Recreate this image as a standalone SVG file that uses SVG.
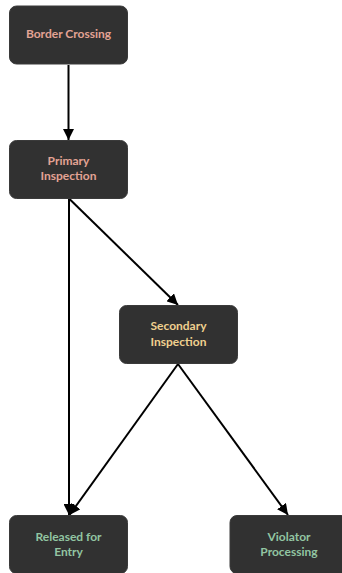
<svg xmlns="http://www.w3.org/2000/svg" width="342" height="573" viewBox="0 0 342 573">
  <style>
    .node rect { fill: #313131; stroke: #3a3a3a; stroke-width: 1; }
    .label { font-family: Lato, "Open Sans", "Liberation Sans", sans-serif; font-size: 12px; font-weight: 700; text-anchor: middle; }
    .pink { fill: #e3a394; }
    .gold { fill: #efd08f; }
    .green { fill: #92c5a2; }
    .edge { stroke: #000; stroke-width: 2; fill: none; marker-end: url(#arrow); }
  </style>
  <defs>
    <marker id="arrow" viewBox="0 0 10 10" refX="10" refY="5" markerWidth="5.5" markerHeight="5.5" orient="auto" markerUnits="strokeWidth">
      <path d="M0,0 L10,5 L0,10 z" fill="#000"/>
    </marker>
  </defs>

  <g id="connectors">
    <line class="edge" x1="68.5" y1="65" x2="68.5" y2="140"/>
    <line class="edge" x1="69" y1="199" x2="69" y2="515"/>
    <line class="edge" x1="69.5" y1="199" x2="178" y2="305"/>
    <line class="edge" x1="178" y1="364" x2="69.5" y2="515"/>
    <line class="edge" x1="178" y1="364" x2="288" y2="515"/>
  </g>

  <g id="border-crossing" class="node">
    <rect x="9.5" y="6" width="118" height="58" rx="7"/>
    <text class="label pink" x="68.5" y="37.5">Border Crossing</text>
  </g>

  <g id="primary-inspection" class="node">
    <rect x="9.5" y="140.5" width="118" height="58" rx="7"/>
    <text class="label pink" x="68.5" y="165">Primary</text>
    <text class="label pink" x="68.5" y="180">Inspection</text>
  </g>

  <g id="secondary-inspection" class="node">
    <rect x="119.5" y="305.5" width="118" height="58" rx="7"/>
    <text class="label gold" x="178.5" y="329.5">Secondary</text>
    <text class="label gold" x="178.5" y="345.5">Inspection</text>
  </g>

  <g id="released-for-entry" class="node">
    <rect x="9.5" y="515.5" width="118" height="58" rx="7"/>
    <text class="label green" x="68.5" y="540.5">Released for</text>
    <text class="label green" x="68.5" y="556">Entry</text>
  </g>

  <g id="violator-processing" class="node">
    <rect x="230" y="515.5" width="118" height="58" rx="7"/>
    <text class="label green" x="289" y="540.5">Violator</text>
    <text class="label green" x="289" y="556">Processing</text>
  </g>
</svg>
